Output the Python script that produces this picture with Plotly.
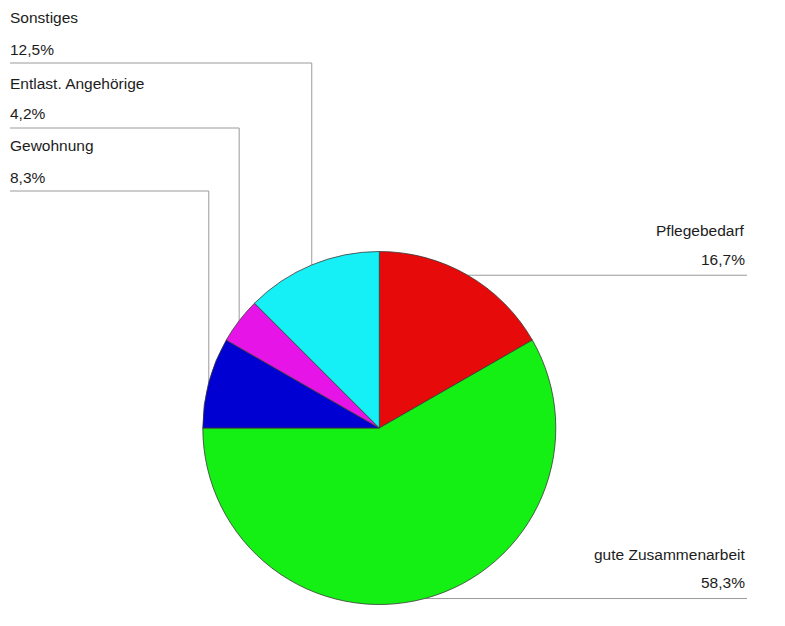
import math
import plotly.graph_objects as go

# ---- data ----
labels = ["Pflegebedarf", "gute Zusammenarbeit", "Gewohnung", "Entlast. Angehörige", "Sonstiges"]
values = [16.7, 58.3, 8.3, 4.2, 12.5]
pct_text = ["16,7%", "58,3%", "8,3%", "4,2%", "12,5%"]
colors = ["#E60A0A", "#14F014", "#0000D2", "#E614E6", "#14F0F5"]

# ---- layout constants (window pixels) ----
W, H = 785, 626
OFF = 8  # page body margin
cx, cy, r = 379.3, 428.0, 176.5
left_elbow_y = {"Sonstiges": 63, "Entlast. Angehörige": 128, "Gewohnung": 191}
left_x = 10
right_x = 747
FONT = dict(family="Liberation Sans, Arial, sans-serif", size=15.5, color="#1c1c1c")
LINE = dict(color="#9a9a9a", width=1)


def px(x):
    return (x - OFF) / W


def py(y):
    return 1 - (y - OFF) / H


fig = go.Figure(
    go.Pie(
        labels=labels,
        values=values,
        sort=False,
        direction="clockwise",
        rotation=0,
        marker=dict(colors=colors, line=dict(color="#3a3a3a", width=0.8)),
        textinfo="none",
        hoverinfo="label+percent",
        showlegend=False,
        domain=dict(x=[px(cx - r), px(cx + r)], y=[py(cy + r), py(cy - r)]),
    )
)

shapes = []
annotations = []
total = sum(values)
cum = 0.0
for lab, v, pt in zip(labels, values, pct_text):
    mid = (cum + v / 2) / total
    cum += v
    th = 2 * math.pi * mid
    x0 = cx + r * math.sin(th)
    y0 = cy - r * math.cos(th)
    if math.sin(th) > 0:
        shapes.append(dict(type="line", xref="paper", yref="paper",
                           x0=px(x0), y0=py(y0), x1=px(right_x), y1=py(y0),
                           line=LINE, layer="below"))
        annotations.append(dict(x=px(right_x), y=py(y0 - 44.5), text=lab, xanchor="right",
                                yanchor="middle", xref="paper", yref="paper",
                                showarrow=False, font=FONT))
        annotations.append(dict(x=px(right_x), y=py(y0 - 16), text=pt, xanchor="right",
                                yanchor="middle", xref="paper", yref="paper",
                                showarrow=False, font=FONT))
    else:
        ye = left_elbow_y[lab]
        shapes.append(dict(type="path", xref="paper", yref="paper",
                           path=f"M {px(x0)} {py(y0)} L {px(x0)} {py(ye)} L {px(left_x)} {py(ye)}",
                           line=LINE, layer="below"))
        annotations.append(dict(x=px(left_x - 2), y=py(ye - 45), text=lab, xanchor="left",
                                yanchor="middle", xref="paper", yref="paper",
                                showarrow=False, font=FONT))
        annotations.append(dict(x=px(left_x - 2), y=py(ye - 14), text=pt, xanchor="left",
                                yanchor="middle", xref="paper", yref="paper",
                                showarrow=False, font=FONT))

fig.update_layout(
    width=W, height=H,
    margin=dict(l=0, r=0, t=0, b=0),
    paper_bgcolor="white", plot_bgcolor="white",
    shapes=shapes, annotations=annotations,
)

fig.write_html("out.html")
